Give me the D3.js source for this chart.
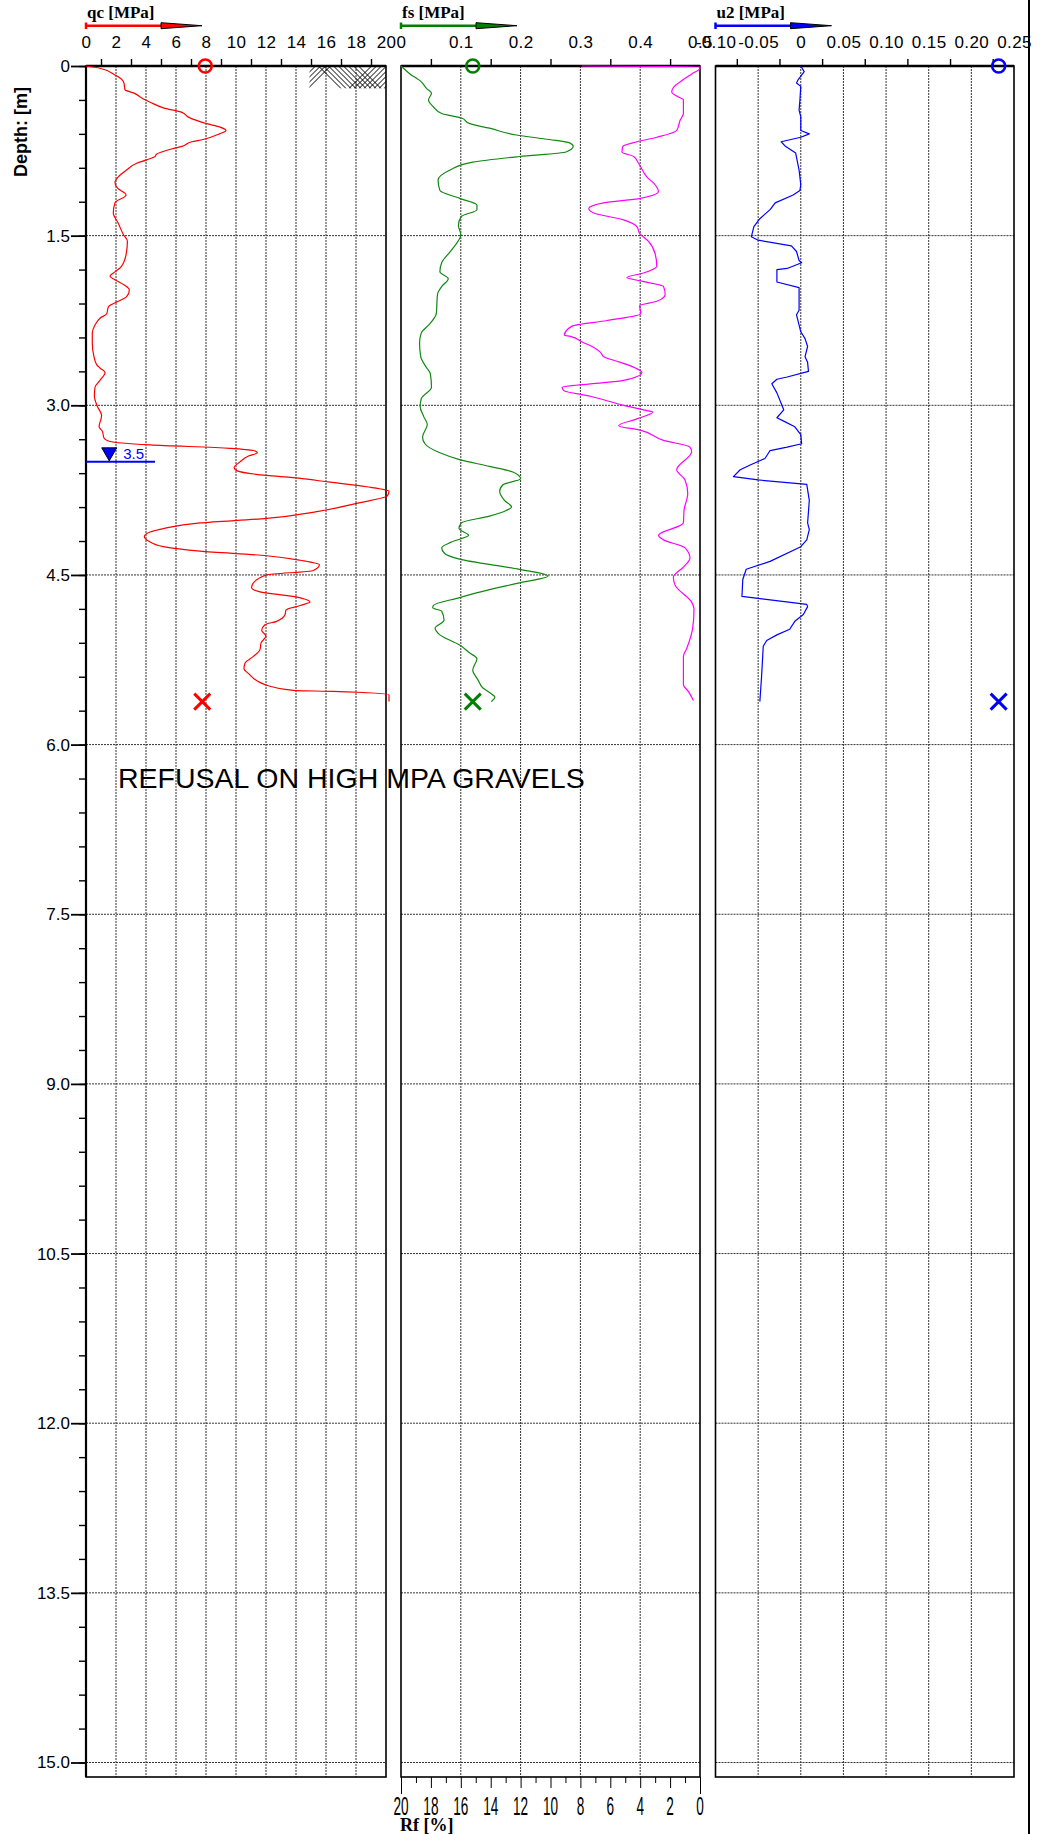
<!DOCTYPE html>
<html>
<head>
<meta charset="utf-8">
<script src="https://cdn.jsdelivr.net/npm/d3@7"></script>
<style>
body { margin: 0; background: #fff; }
svg { display: block; }
.lbl { font-family: "Liberation Sans", Arial, sans-serif; font-size: 17px; fill: #000; }
.ttl { font-family: "Liberation Serif", "Times New Roman", serif; font-size: 17px; font-weight: bold; fill: #000; }
</style>
</head>
<body>
<svg id="chart" width="1048" height="1834"></svg>
<script>
'use strict';

//#region DATA
// [depth m, qc MPa]
const qcProfile = [[0,0],[0.02,0.93],[0.08,1.93],[0.12,2.4],[0.15,2.53],[0.21,2.6],[0.24,3.2],[0.29,3.8],[0.32,4.27],
    [0.37,5.16],[0.41,6.4],[0.45,6.8],[0.51,8.04],[0.54,8.93],[0.57,9.33],[0.60,8.9],[0.65,7.8],[0.67,7.05],[0.71,6.4],
    [0.73,5.8],[0.78,4.7],[0.80,4.6],[0.83,4.04],[0.86,3.38],[0.92,2.7],[0.98,2.15],[1.03,1.93],[1.08,2.1],[1.14,2.67],
    [1.21,1.93],[1.30,1.82],[1.39,2.15],[1.49,2.49],[1.55,2.76],[1.67,2.67],[1.78,2.31],[1.82,1.93],[1.86,1.6],[1.89,1.93],
    [1.94,2.6],[1.98,2.89],[2.04,2.71],[2.08,2.15],[2.13,1.49],[2.19,1.38],[2.23,0.93],[2.29,0.6],[2.36,0.42],[2.45,0.42],
    [2.57,0.53],[2.64,0.71],[2.67,0.93],[2.71,1.27],[2.78,0.93],[2.84,0.6],[2.92,0.56],[3.01,0.76],[3.09,1.04],[3.19,0.87],
    [3.23,1.09],[3.29,1.2],[3.32,1.6],[3.35,4.27],[3.38,9.6],[3.40,11.16],[3.42,11.42],[3.45,10.8],[3.50,10.27],[3.55,9.87],
    [3.58,10.09],[3.62,12.04],[3.64,13.8],[3.68,16.27],[3.72,18.7],[3.76,20.2],[3.80,20.1],[3.86,18.27],[3.94,15.38],
    [4.00,12.04],[4.04,7.6],[4.09,5.16],[4.12,4.27],[4.16,3.89],[4.20,4.16],[4.25,5.16],[4.29,7.6],[4.33,12.04],[4.37,14.27],
    [4.41,15.56],[4.46,15.16],[4.50,12.04],[4.57,11.16],[4.61,11.04],[4.65,11.6],[4.69,13.8],[4.74,14.93],[4.77,14.27],
    [4.81,13.33],[4.85,13.27],[4.91,12.71],[4.94,11.93],[4.99,11.71],[5.04,12.0],[5.10,11.67],[5.16,11.6],[5.22,11.16],
    [5.28,10.6],[5.33,10.53],[5.37,10.82],[5.47,11.93],[5.52,13.82],[5.53,16.49],[5.56,20.2],[5.62,20.2]];

// [depth m, fs MPa]
const fsProfile = [[0,0],[0.07,0.015],[0.14,0.034],[0.20,0.043],[0.24,0.051],[0.30,0.046],[0.36,0.054],[0.42,0.068],
    [0.46,0.101],[0.51,0.115],[0.55,0.148],[0.61,0.193],[0.65,0.248],[0.68,0.282],[0.71,0.288],[0.76,0.276],[0.80,0.198],
    [0.85,0.12],[0.92,0.082],[1.01,0.062],[1.10,0.065],[1.17,0.098],[1.23,0.127],[1.27,0.127],[1.33,0.101],[1.41,0.096],
    [1.49,0.1],[1.63,0.084],[1.74,0.068],[1.82,0.065],[1.88,0.079],[1.95,0.068],[2.02,0.061],[2.19,0.059],[2.28,0.048],
    [2.36,0.034],[2.45,0.031],[2.57,0.033],[2.67,0.043],[2.72,0.049],[2.84,0.051],[2.94,0.034],[3.01,0.032],[3.10,0.038],
    [3.17,0.044],[3.28,0.036],[3.34,0.04],[3.42,0.065],[3.48,0.098],[3.54,0.148],[3.59,0.187],[3.65,0.2],[3.70,0.171],
    [3.76,0.165],[3.84,0.173],[3.90,0.185],[3.93,0.176],[3.98,0.148],[4.04,0.101],[4.09,0.097],[4.15,0.113],[4.21,0.084],
    [4.26,0.068],[4.31,0.073],[4.36,0.098],[4.45,0.198],[4.51,0.246],[4.57,0.198],[4.63,0.148],[4.70,0.098],[4.77,0.054],
    [4.79,0.053],[4.82,0.068],[4.90,0.072],[4.97,0.057],[5.03,0.065],[5.12,0.098],[5.19,0.115],[5.24,0.127],[5.34,0.12],
    [5.43,0.129],[5.50,0.137],[5.54,0.148],[5.58,0.157],[5.62,0.151]];

// [depth m, Rf %]
const rfProfile = [[0,7.9],[0.005,0],[0.02,0],[0.07,0.55],[0.12,1.11],[0.19,1.78],[0.23,1.89],[0.27,1.51],[0.30,1.11],
    [0.42,1.11],[0.48,1.33],[0.57,1.56],[0.63,2.89],[0.67,4.22],[0.71,5.16],[0.76,5.22],[0.80,4.44],[0.86,4.11],[0.98,3.56],
    [1.05,3.0],[1.11,2.78],[1.17,4.0],[1.21,6.44],[1.26,7.44],[1.30,7.11],[1.36,5.11],[1.42,4.22],[1.48,4.04],[1.55,3.44],
    [1.66,3.0],[1.77,2.89],[1.83,3.78],[1.87,4.89],[1.90,4.0],[1.95,2.44],[2.02,2.33],[2.08,2.89],[2.12,4.04],[2.19,3.96],
    [2.25,6.22],[2.30,8.56],[2.38,9.07],[2.39,8.67],[2.44,7.89],[2.48,7.22],[2.53,6.67],[2.57,6.44],[2.62,5.33],[2.67,4.33],
    [2.71,3.89],[2.78,5.11],[2.81,7.33],[2.84,9.22],[2.87,9.11],[2.92,7.33],[3.0,5.11],[3.04,3.78],[3.06,3.16],[3.12,4.22],
    [3.18,5.44],[3.22,4.0],[3.31,2.44],[3.37,0.67],[3.41,0.56],[3.57,1.56],[3.66,1.0],[3.78,0.82],[3.93,1.07],[4.04,1.11],
    [4.15,2.78],[4.19,2.44],[4.26,1.0],[4.35,0.67],[4.43,1.11],[4.52,1.78],[4.59,1.67],[4.74,0.56],[4.80,0.4],[4.97,0.49],
    [5.15,0.89],[5.22,1.11],[5.47,1.11],[5.53,0.78],[5.61,0.44]];

// [depth m, u2 MPa]
const u2Profile = [[0,0],[0.05,0.004],[0.12,-0.003],[0.15,-0.005],[0.18,0],[0.30,-0.001],[0.39,-0.002],[0.45,0],[0.57,0],
    [0.60,0.01],[0.63,0],[0.67,-0.023],[0.71,-0.018],[0.77,-0.006],[0.92,-0.002],[1.05,0],[1.10,-0.001],[1.14,-0.009],
    [1.21,-0.03],[1.27,-0.036],[1.35,-0.048],[1.42,-0.055],[1.51,-0.058],[1.54,-0.05],[1.59,-0.011],[1.64,-0.005],
    [1.72,-0.002],[1.74,0.001],[1.79,-0.016],[1.80,-0.028],[1.91,-0.028],[1.96,-0.002],[2.16,-0.002],[2.20,-0.005],
    [2.26,-0.003],[2.35,0],[2.41,0.005],[2.48,0.008],[2.57,0.005],[2.62,0.008],[2.70,0.009],[2.75,-0.016],[2.77,-0.028],
    [2.81,-0.034],[2.89,-0.028],[3.04,-0.02],[3.11,-0.028],[3.14,-0.02],[3.19,-0.007],[3.26,0],[3.34,0.001],[3.37,-0.016],
    [3.40,-0.036],[3.47,-0.042],[3.53,-0.06],[3.57,-0.071],[3.63,-0.079],[3.66,-0.05],[3.70,0.007],[3.84,0.01],[4.04,0.008],
    [4.10,0.01],[4.19,0.007],[4.25,0],[4.38,-0.036],[4.45,-0.064],[4.54,-0.068],[4.69,-0.069],[4.76,0.007],[4.78,0.008],
    [4.85,0.003],[4.91,-0.007],[4.98,-0.013],[5.03,-0.028],[5.08,-0.04],[5.13,-0.044],[5.40,-0.046],[5.62,-0.048]];

// start (circle) and end (cross) markers
const markerDepths = [0, 5.62];
const qcMarkers = [7.95, 7.75];
const fsMarkers = [0.12, 0.12];
const u2Markers = [0.232, 0.232];

const waterDepth = 3.5;
const noteText = 'REFUSAL ON HIGH MPA GRAVELS';

// tick labels
const depthLabels = [0, 1.5, 3, 4.5, 6, 7.5, 9, 10.5, 12, 13.5, 15];
const qcLabels = [0, 2, 4, 6, 8, 10, 12, 14, 16, 18, 20];
const qcMinor = [1, 3, 5, 7, 9, 11, 13, 15, 17, 19];
const fsLabels = [0, 0.1, 0.2, 0.3, 0.4, 0.5];
const fsMinor = [0.05, 0.15, 0.25, 0.35, 0.45];
const u2Labels = [-0.10, -0.05, 0, 0.05, 0.10, 0.15, 0.20, 0.25];
const u2Minor = [-0.075, -0.025, 0.025, 0.075, 0.125, 0.175, 0.225];
const rfLabels = [20, 18, 16, 14, 12, 10, 8, 6, 4, 2, 0];
const rfMinor = [19, 17, 15, 13, 11, 9, 7, 5, 3, 1];
//#endregion

const TOP = 66;
const BOTTOM = 1777;

const y = d3.scaleLinear().domain([0, 15]).range([TOP, 1762.5]);
const xQc = d3.scaleLinear().domain([0, 20]).range([86, 386]);
const xFs = d3.scaleLinear().domain([0, 0.5]).range([401, 700]);
const xRf = d3.scaleLinear().domain([20, 0]).range([401, 700]);
const xU2 = d3.scaleLinear().domain([-0.1, 0.25]).range([715.5, 1014]);

const svg = d3.select('#chart');

const panels = [
    {x: xQc, labels: qcLabels, minor: qcMinor, fmt: d => String(d), title: 'qc [MPa]', color: '#ff0000'},
    {x: xFs, labels: fsLabels, minor: fsMinor, fmt: d => d === 0 ? '0' : d.toFixed(1), title: 'fs [MPa]', color: '#008000'},
    {x: xU2, labels: u2Labels, minor: u2Minor, fmt: d => d === 0 ? '0' : d.toFixed(2), title: 'u2 [MPa]', color: '#0000ff'}
];

//#region GRID + FRAMES
panels.forEach(p => {
    const [x0, x1] = p.x.range();
    const g = svg.append('g');

    //dotted grid, skip the frame edges
    g.selectAll('.vgrid')
        .data(p.labels.filter(v => v !== p.x.domain()[0] && v !== p.x.domain()[1]))
        .enter()
        .append('line')
        .attr('x1', d => p.x(d)).attr('x2', d => p.x(d))
        .attr('y1', TOP).attr('y2', BOTTOM)
        .attr('stroke', '#333').attr('stroke-width', 1).attr('stroke-dasharray', '2,1');

    g.selectAll('.hgrid')
        .data(depthLabels.slice(1))
        .enter()
        .append('line')
        .attr('x1', x0).attr('x2', x1)
        .attr('y1', d => y(d)).attr('y2', d => y(d))
        .attr('stroke', '#333').attr('stroke-width', 1).attr('stroke-dasharray', '2,1');

    g.append('rect')
        .attr('x', x0).attr('y', TOP)
        .attr('width', x1 - x0).attr('height', BOTTOM - TOP)
        .attr('fill', 'none').attr('stroke', '#000').attr('stroke-width', 1.6);

    g.append('line')
        .attr('x1', x0).attr('x2', x1).attr('y1', TOP).attr('y2', TOP)
        .attr('stroke', '#000').attr('stroke-width', 2.5);

    //top axis: labels on the major values, little ticks only on the minor ones
    const labelAxis = svg.append('g')
        .attr('transform', `translate(0,${TOP})`)
        .call(d3.axisTop(p.x).tickValues(p.labels).tickSize(0).tickPadding(18).tickFormat(p.fmt));
    labelAxis.select('.domain').remove();
    labelAxis.attr('font-size', null).attr('font-family', null);
    labelAxis.selectAll('text').attr('class', 'lbl').style('letter-spacing', '0.4px');

    const minorAxis = svg.append('g')
        .attr('transform', `translate(0,${TOP})`)
        .call(d3.axisTop(p.x).tickValues(p.minor).tickSize(7).tickFormat(''));
    minorAxis.select('.domain').remove();
    minorAxis.selectAll('line').attr('stroke-width', 1.4);

    //title + direction arrow
    svg.append('text').attr('class', 'ttl').attr('x', x0 + 1).attr('y', 18).text(p.title);
    svg.append('line')
        .attr('x1', x0).attr('x2', x0 + 76).attr('y1', 25.7).attr('y2', 25.7)
        .attr('stroke', p.color).attr('stroke-width', 2.5);
    svg.append('line')
        .attr('x1', x0).attr('x2', x0).attr('y1', 22.5).attr('y2', 29)
        .attr('stroke', p.color).attr('stroke-width', 2.5);
    svg.append('polygon')
        .attr('points', `${x0 + 75},22.7 ${x0 + 116},25.7 ${x0 + 75},28.7`)
        .attr('fill', p.color).attr('stroke', '#000').attr('stroke-width', 1);
});
//#endregion

//#region DEPTH AXIS
const depthMinor = d3.range(0, 51).map(i => +(i * 0.3).toFixed(1));
const minorLeft = svg.append('g')
    .attr('transform', `translate(${xQc(0)},0)`)
    .call(d3.axisLeft(y).tickValues(depthMinor).tickSize(7).tickFormat(''));
minorLeft.select('.domain').remove();
minorLeft.selectAll('line').attr('stroke-width', 1.4);

const majorLeft = svg.append('g')
    .attr('transform', `translate(${xQc(0)},0)`)
    .call(d3.axisLeft(y).tickValues(depthLabels).tickSize(15).tickPadding(1)
        .tickFormat(d => d === 0 ? '0' : d.toFixed(1)));
majorLeft.select('.domain').remove();
majorLeft.selectAll('line').attr('stroke-width', 1.8);
majorLeft.attr('font-size', null).attr('font-family', null);
majorLeft.selectAll('text').attr('class', 'lbl');

svg.append('line')
    .attr('x1', xQc(0)).attr('x2', xQc(0)).attr('y1', TOP).attr('y2', BOTTOM)
    .attr('stroke', '#000').attr('stroke-width', 2.2);

svg.append('text')
    .attr('transform', 'translate(26.5,132) rotate(-90)')
    .attr('text-anchor', 'middle')
    .style('font-family', '"Liberation Sans", Arial, sans-serif')
    .style('font-size', '18px').style('font-weight', 'bold')
    .text('Depth: [m]');
//#endregion

//#region Rf AXIS (bottom of fs panel)
const rfMinorAxis = svg.append('g')
    .attr('transform', `translate(0,${BOTTOM})`)
    .call(d3.axisBottom(xRf).tickValues(rfMinor).tickSize(6).tickFormat(''));
rfMinorAxis.select('.domain').remove();
const rfMajorAxis = svg.append('g')
    .attr('transform', `translate(0,${BOTTOM})`)
    .call(d3.axisBottom(xRf).tickValues(rfLabels).tickSize(11).tickFormat(''));
rfMajorAxis.select('.domain').remove();
rfMajorAxis.selectAll('.tick line').attr('y2', d => (d === 20 || d === 0) ? 17 : 11);
svg.selectAll('.rflbl')
    .data(rfLabels)
    .enter()
    .append('text')
    .attr('class', 'lbl')
    .attr('text-anchor', 'middle')
    .attr('transform', d => `translate(${xRf(d)},1815) scale(0.8,1.5)`)
    .text(d => d);
svg.append('text').attr('class', 'ttl').attr('x', 400).attr('y', 1831)
    .style('font-size', '18px').text('Rf [%]');
//#endregion

//#region SOIL HATCH (qc 15-20, top 0.2 m)
svg.append('clipPath').attr('id', 'hatchClip')
    .append('rect')
    .attr('x', xQc(14.9)).attr('y', y(0))
    .attr('width', xQc(20) - xQc(14.9)).attr('height', y(0.2) - y(0));
const hatch = svg.append('g').attr('clip-path', 'url(#hatchClip)')
    .attr('stroke', '#000').attr('stroke-width', 1);
const hh = y(0.2) - y(0);
const hx0 = xQc(14.9);
// "\" strokes through the middle
d3.range(hx0 + 9, hx0 + 50, 5).forEach(x => {
    hatch.append('line').attr('x1', x).attr('y1', y(0)).attr('x2', x + hh).attr('y2', y(0.2));
});
// "/" strokes at the left edge
d3.range(hx0 + 6, hx0 + 24, 5).forEach(x => {
    hatch.append('line').attr('x1', x).attr('y1', y(0)).attr('x2', x - hh).attr('y2', y(0.2));
});
// "/" strokes on the right
d3.range(hx0 + 62, xQc(20) + hh, 5).forEach(x => {
    hatch.append('line').attr('x1', x).attr('y1', y(0)).attr('x2', x - hh).attr('y2', y(0.2));
});
//#endregion

//#region PROFILES
function drawProfile(data, x, color, curve) {
    const line = d3.line()
        .x(d => x(d[1]))
        .y(d => y(d[0]))
        .curve(curve);
    svg.append('path')
        .datum(data)
        .attr('d', line)
        .attr('fill', 'none')
        .attr('stroke', color)
        .attr('stroke-width', 1.2)
        .attr('stroke-linejoin', 'round');
}
drawProfile(qcProfile, xQc, '#ff0000', d3.curveMonotoneY);
drawProfile(fsProfile, xFs, '#118811', d3.curveMonotoneY);
drawProfile(rfProfile, xRf, '#ff00ff', d3.curveMonotoneY);
drawProfile(u2Profile, xU2, '#0000ff', d3.curveLinear);
//#endregion

//#region MARKERS
const markerSets = [[qcMarkers, xQc, '#ff0000'], [fsMarkers, xFs, '#008000'], [u2Markers, xU2, '#0000ff']];
markerSets.forEach(([vals, x, color]) => {
    svg.append('circle')
        .attr('cx', x(vals[0])).attr('cy', y(markerDepths[0])).attr('r', 6.5)
        .attr('fill', 'none').attr('stroke', color).attr('stroke-width', 2.6);
    const cx = x(vals[1]);
    const cy = y(markerDepths[1]);
    const s = 8;
    svg.append('path')
        .attr('d', `M${cx - s},${cy - s}L${cx + s},${cy + s}M${cx - s},${cy + s}L${cx + s},${cy - s}`)
        .attr('stroke', color).attr('stroke-width', 3).attr('fill', 'none');
});

//ground water level
const wy = y(waterDepth);
const wx = xQc(1.55);
svg.append('line')
    .attr('x1', xQc(0)).attr('x2', xQc(4.6)).attr('y1', wy).attr('y2', wy)
    .attr('stroke', '#0000ff').attr('stroke-width', 2);
svg.append('polygon')
    .attr('points', `${wx - 7.5},${wy - 14} ${wx + 7.5},${wy - 14} ${wx},${wy - 1}`)
    .attr('fill', '#0000ff').attr('stroke', '#000').attr('stroke-width', 1);
svg.append('text')
    .attr('x', wx + 14).attr('y', wy - 3)
    .style('font-family', '"Liberation Sans", Arial, sans-serif')
    .style('font-size', '15px').attr('fill', '#0000ff')
    .text(waterDepth.toFixed(1));

svg.append('text')
    .attr('x', 118).attr('y', 788)
    .style('font-family', '"Liberation Sans", Arial, sans-serif')
    .style('font-size', '28.5px').attr('fill', '#000')
    .text(noteText);
//#endregion

//page border on the right
svg.append('line')
    .attr('x1', 1029).attr('x2', 1029).attr('y1', 0).attr('y2', 1834)
    .attr('stroke', '#000').attr('stroke-width', 2);
</script>
</body>
</html>
